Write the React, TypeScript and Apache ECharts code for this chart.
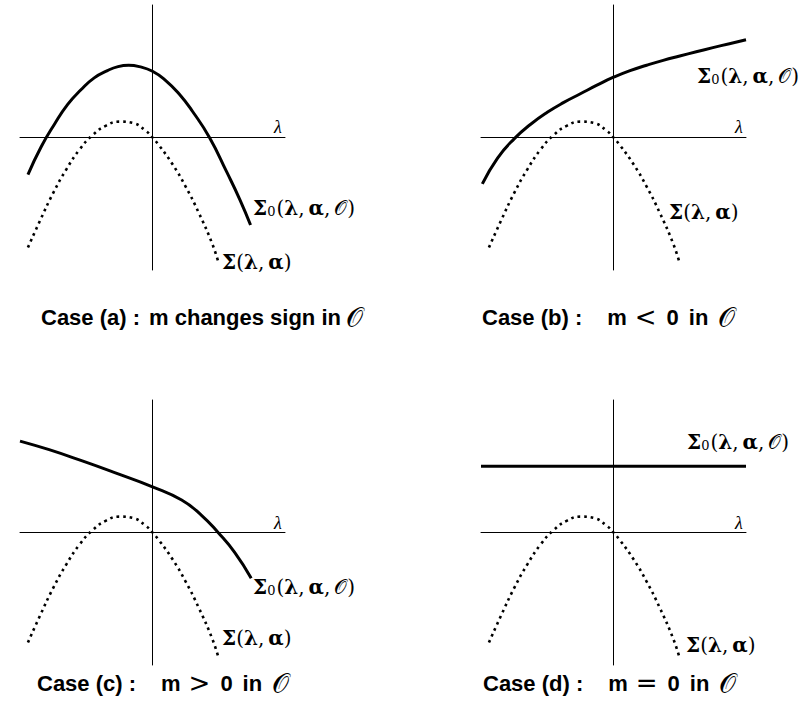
import React, { useEffect, useRef } from "react";
import * as echarts from "echarts";

// Σ(λ,α): the same dotted curve appears in all four cases
const sigmaLambda = [-0.94, -0.85, -0.75, -0.65, -0.55, -0.45, -0.35, -0.25, -0.15, -0.05, 0, 0.05, 0.15, 0.25, 0.35, 0.45, 0.5];
const sigmaValues = [-0.83, -0.63, -0.42, -0.24, -0.09, 0.02, 0.09, 0.12, 0.11, 0.05, 0, -0.06, -0.2, -0.37, -0.57, -0.8, -0.95];

// Σ0(λ,α,O) for each case
const caseALambda = [-0.94, -0.84, -0.74, -0.64, -0.54, -0.44, -0.34, -0.26, -0.18, -0.1, 0, 0.1, 0.2, 0.3, 0.43, 0.56, 0.66, 0.74];
const caseAValues = [-0.28, -0.07, 0.1, 0.25, 0.36, 0.45, 0.505, 0.535, 0.545, 0.535, 0.5, 0.43, 0.33, 0.2, 0, -0.26, -0.47, -0.66];

const caseBLambda = [-0.99, -0.875, -0.75, -0.625, -0.5, -0.375, -0.25, -0.125, 0, 0.125, 0.25, 0.375, 0.5, 0.625, 0.75, 0.875, 1.0];
const caseBValues = [-0.35, -0.155, -0.01, 0.1, 0.19, 0.265, 0.33, 0.395, 0.455, 0.505, 0.545, 0.582, 0.615, 0.647, 0.678, 0.708, 0.738];

const caseCLambda = [-1.0, -0.78, -0.53, -0.28, 0, 0.22, 0.37, 0.495, 0.62, 0.745];
const caseCValues = [0.69, 0.625, 0.54, 0.45, 0.345, 0.245, 0.13, 0, -0.15, -0.345];

const caseDLambda = [-1, 1];
const caseDValues = [0.5, 0.5];

const caseNames = ["(a)", "(b)", "(c)", "(d)"];
const relations = ["", "<", ">", "="];

const zip = (xs: number[], ys: number[]) => xs.map((x, i) => [x, ys[i]]);

const panels = [
  { left: 20, top: 5, lam: caseALambda, val: caseAValues },
  { left: 481, top: 5, lam: caseBLambda, val: caseBValues },
  { left: 20, top: 400, lam: caseCLambda, val: caseCValues },
  { left: 481, top: 400, lam: caseDLambda, val: caseDValues },
];

const SERIF = "'DejaVu Serif', 'Liberation Serif', serif";
const SANS = "'Liberation Sans', 'DejaVu Sans', sans-serif";

const mathRich = {
  b: { fontFamily: SERIF, fontWeight: "bold", fontSize: 20, fill: "#000" },
  n: { fontFamily: SERIF, fontWeight: "normal", fontSize: 20, fill: "#000" },
  s: { fontFamily: SERIF, fontWeight: "normal", fontSize: 13, fill: "#000", padding: [7, 1, 0, 0] },
  o: { fontFamily: SERIF, fontSize: 20, fill: "#000" },
};

const sigma0Text = "{b|Σ}{s|0}{n|(}{b|λ}{n|,\u2009}{b|α}{n|,\u2009}{o|𝒪}{n|)}";
const sigmaText = "{b|Σ}{n|(}{b|λ}{n|,\u2009}{b|α}{n|)}";

function mathLabel(text: string, x: number, y: number) {
  return {
    type: "text",
    x,
    y,
    style: { text, rich: mathRich, verticalAlign: "middle", align: "left" },
  };
}

const captionRich = {
  c: { fontFamily: SANS, fontWeight: "bold", fontSize: 22, fill: "#000" },
  m: { fontFamily: SANS, fontWeight: "bold", fontSize: 22, fill: "#000", padding: [0, 0, 0, 25] },
  r: { fontFamily: "'DejaVu Sans', sans-serif", fontSize: 26, fill: "#000", padding: [0, 0, 0, 8] },
  z: { fontFamily: SANS, fontWeight: "bold", fontSize: 22, fill: "#000", padding: [0, 0, 0, 10] },
  w: { fontFamily: SANS, fontWeight: "bold", fontSize: 22, fill: "#000", padding: [0, 0, 0, 10] },
  o: { fontFamily: SERIF, fontSize: 27, fill: "#000", padding: [0, 0, 0, 10] },
  ma: { fontFamily: SANS, fontWeight: "bold", fontSize: 22, fill: "#000", padding: [0, 0, 0, 9] },
  oa: { fontFamily: SERIF, fontSize: 27, fill: "#000", padding: [0, 0, 0, 5] },
};

function caption(i: number, x: number, y: number) {
  const head = "{c|Case " + caseNames[i] + " :}";
  const text =
    i === 0
      ? head + "{ma|m changes sign in}{oa|𝒪}"
      : head + "{m|m}{r|" + relations[i] + "}{z|0}{w|in}{o|𝒪}";
  return {
    type: "text",
    x,
    y,
    style: { text, verticalAlign: "middle", align: "left", rich: captionRich },
  };
}

function lambdaLabel(x: number, y: number) {
  return {
    type: "text",
    x,
    y,
    style: {
      text: "λ",
      font: "italic 18px 'Liberation Serif', serif",
      fill: "#000",
      verticalAlign: "middle",
      align: "center",
    },
  };
}

export default function App() {
  const ref = useRef<HTMLDivElement>(null);

  useEffect(() => {
    if (!ref.current) return;
    const chart = echarts.init(ref.current, undefined, { renderer: "svg" });

    const axisCommon = {
      type: "value",
      min: -1,
      max: 1,
      axisLine: { show: true, onZero: true, lineStyle: { color: "#000", width: 1 } },
      axisTick: { show: false },
      axisLabel: { show: false },
      splitLine: { show: false },
    };

    const series: any[] = [];
    panels.forEach((p, i) => {
      series.push({
        type: "line",
        xAxisIndex: i,
        yAxisIndex: i,
        data: zip(sigmaLambda, sigmaValues),
        smooth: 0.5,
        showSymbol: false,
        lineStyle: { color: "#000", width: 2.6, type: [2.6, 4], cap: "butt" },
      });
      series.push({
        type: "line",
        xAxisIndex: i,
        yAxisIndex: i,
        data: zip(p.lam, p.val),
        smooth: p.lam.length > 2 ? 0.5 : false,
        showSymbol: false,
        lineStyle: { color: "#000", width: 3 },
      });
    });

    chart.setOption({
      animation: false,
      backgroundColor: "#fff",
      grid: panels.map((p) => ({ left: p.left, top: p.top, width: 265, height: 265 })),
      xAxis: panels.map((_, i) => ({ ...axisCommon, gridIndex: i })),
      yAxis: panels.map((_, i) => ({ ...axisCommon, gridIndex: i })),
      series,
      graphic: [
        lambdaLabel(278, 127),
        lambdaLabel(739, 127),
        lambdaLabel(278, 523),
        lambdaLabel(739, 523),
        mathLabel(sigma0Text, 253, 208),
        mathLabel(sigmaText, 222, 262),
        mathLabel(sigma0Text, 697, 76),
        mathLabel(sigmaText, 669, 212),
        mathLabel(sigma0Text, 253, 587),
        mathLabel(sigmaText, 222, 638),
        mathLabel(sigma0Text, 687, 442),
        mathLabel(sigmaText, 686, 645),
        caption(0, 41, 317),
        caption(1, 482, 317),
        caption(2, 37, 683),
        caption(3, 483, 683),
      ],
    });

    return () => chart.dispose();
  }, []);

  return (
    <div
      ref={ref}
      style={{ position: "absolute", left: 0, top: 0, width: 803, height: 710, background: "#fff" }}
    />
  );
}
